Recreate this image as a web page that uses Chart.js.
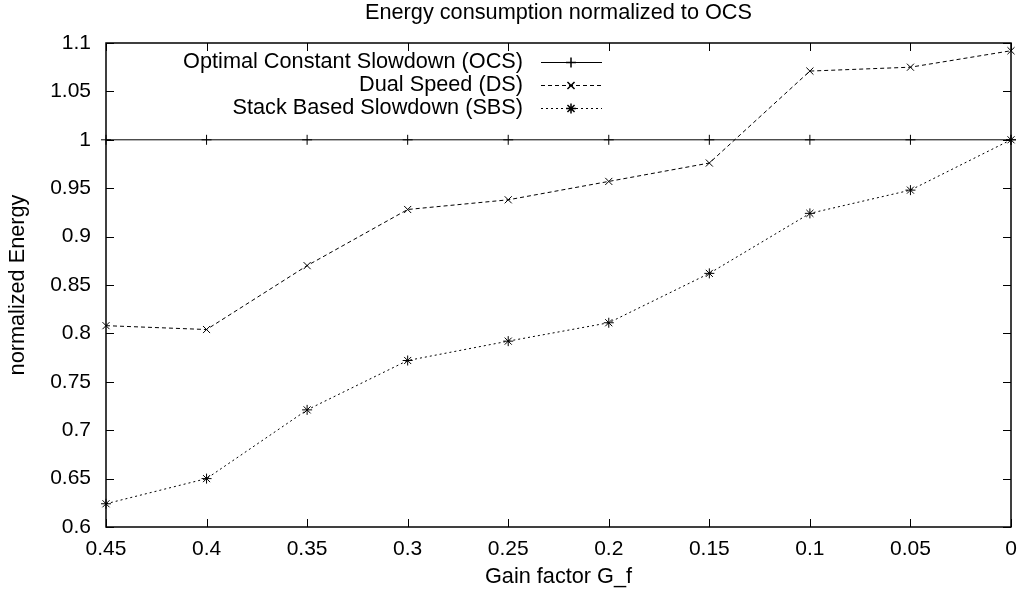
<!DOCTYPE html>
<html>
<head>
<meta charset="utf-8">
<script src="https://cdn.jsdelivr.net/npm/chart.js@4"></script>
<style>
  html, body { margin: 0; padding: 0; background: #fff; }
  #wrap { width: 1017px; height: 600px; }
</style>
</head>
<body>
<div id="wrap"><canvas id="chart" width="1017" height="600"></canvas></div>
<script>
const gainFactors = [0.45, 0.4, 0.35, 0.3, 0.25, 0.2, 0.15, 0.1, 0.05, 0];
const ocsValues = [1, 1, 1, 1, 1, 1, 1, 1, 1, 1];
const dsValues = [0.808, 0.804, 0.870, 0.928, 0.938, 0.957, 0.976, 1.071, 1.075, 1.092];
const sbsValues = [0.624, 0.650, 0.721, 0.772, 0.792, 0.811, 0.862, 0.924, 0.948, 1.0];
const seriesNames = [
  "Optimal Constant Slowdown (OCS)",
  "Dual Speed (DS)",
  "Stack Based Slowdown (SBS)",
];

const FONT = "'Liberation Sans', Arial, sans-serif";
const TICK_SIZE = 21;
const TEXT_SIZE = 21.7;

const toPoints = (values) => gainFactors.map((x, i) => ({ x: x, y: values[i] }));

/*************************************************************
 * gnuplot style frame, inner ticks, title and key
 *************************************************************/
const gnuplotFrame = {
  id: "gnuplotFrame",
  afterDatasetsDraw(chart) {
    const { ctx, chartArea: a, scales } = chart;
    const tick = 8;
    ctx.save();
    ctx.strokeStyle = "#000";
    ctx.lineWidth = 1;
    ctx.beginPath();
    scales.x.ticks.forEach((t) => {
      const px = Math.round(scales.x.getPixelForValue(t.value)) + 0.5;
      ctx.moveTo(px, a.bottom);
      ctx.lineTo(px, a.bottom - tick);
      ctx.moveTo(px, a.top);
      ctx.lineTo(px, a.top + tick);
    });
    scales.y.ticks.forEach((t) => {
      const py = Math.round(scales.y.getPixelForValue(t.value)) + 0.5;
      ctx.moveTo(a.left, py);
      ctx.lineTo(a.left + tick, py);
      ctx.moveTo(a.right, py);
      ctx.lineTo(a.right - tick, py);
    });
    ctx.stroke();
    ctx.lineWidth = 1.5;
    ctx.strokeRect(a.left, a.top, a.right - a.left, a.bottom - a.top);

    // title
    ctx.fillStyle = "#000";
    ctx.font = TEXT_SIZE + "px " + FONT;
    ctx.textAlign = "center";
    ctx.textBaseline = "middle";
    ctx.fillText("Energy consumption normalized to OCS", (a.left + a.right) / 2, 13);

    // key
    ctx.textAlign = "right";
    const rows = [62, 85, 108];
    const dashes = [[], [4, 3], [2, 3]];
    const styles = ["cross", "crossRot", "star"];
    rows.forEach((y, i) => {
      ctx.fillText(seriesNames[i], 523, y);
      ctx.save();
      ctx.lineWidth = 1;
      ctx.setLineDash(dashes[i]);
      ctx.beginPath();
      ctx.moveTo(541, y + 0.5);
      ctx.lineTo(602, y + 0.5);
      ctx.stroke();
      ctx.restore();
      Chart.helpers.drawPoint(ctx, { pointStyle: styles[i], radius: 5, borderWidth: 1 }, 571, y + 0.5);
    });
    ctx.restore();
  },
};

const makeDataset = (label, values, style, dash) => ({
  label: label,
  data: toPoints(values),
  borderColor: "#000",
  backgroundColor: "#000",
  borderWidth: 1,
  borderDash: dash,
  pointStyle: style,
  pointRadius: 5,
  pointBorderWidth: 1,
  pointBorderColor: "#000",
  tension: 0,
  clip: false,
});

new Chart(document.getElementById("chart").getContext("2d"), {
  type: "line",
  data: {
    datasets: [
      makeDataset(seriesNames[0], ocsValues, "cross", []),
      makeDataset(seriesNames[1], dsValues, "crossRot", [4, 3]),
      makeDataset(seriesNames[2], sbsValues, "star", [2, 3]),
    ],
  },
  options: {
    animation: false,
    responsive: false,
    devicePixelRatio: 1,
    layout: { padding: { top: 43, right: 5, left: 0, bottom: 0 } },
    plugins: {
      legend: { display: false },
      tooltip: { enabled: false },
    },
    scales: {
      x: {
        type: "linear",
        reverse: true,
        min: 0,
        max: 0.45,
        afterFit: (scale) => {
          scale.height = 73;
          scale.paddingLeft = 0;
          scale.paddingRight = 0;
        },
        afterBuildTicks: (scale) => {
          scale.ticks = gainFactors.map((v) => ({ value: v }));
        },
        grid: { display: false, drawTicks: false },
        border: { display: false },
        ticks: {
          color: "#000",
          padding: 10,
          maxRotation: 0,
          font: { family: FONT, size: TICK_SIZE },
          callback: (v) => String(Math.round(v * 100) / 100),
        },
        title: {
          display: true,
          text: "Gain factor G_f",
          color: "#000",
          font: { family: FONT, size: TEXT_SIZE },
          padding: { top: 4, bottom: 10 },
        },
      },
      y: {
        min: 0.6,
        max: 1.1,
        afterFit: (scale) => {
          scale.width = 106;
          scale.paddingTop = 0;
          scale.paddingBottom = 0;
        },
        grid: { display: false, drawTicks: false },
        border: { display: false },
        ticks: {
          stepSize: 0.05,
          color: "#000",
          padding: 15,
          font: { family: FONT, size: TICK_SIZE },
          callback: (v) => String(Math.round(v * 100) / 100),
        },
        title: {
          display: true,
          text: "normalized Energy",
          color: "#000",
          font: { family: FONT, size: TEXT_SIZE },
          padding: { top: 5, bottom: 0 },
        },
      },
    },
  },
  plugins: [gnuplotFrame],
});
</script>
</body>
</html>
